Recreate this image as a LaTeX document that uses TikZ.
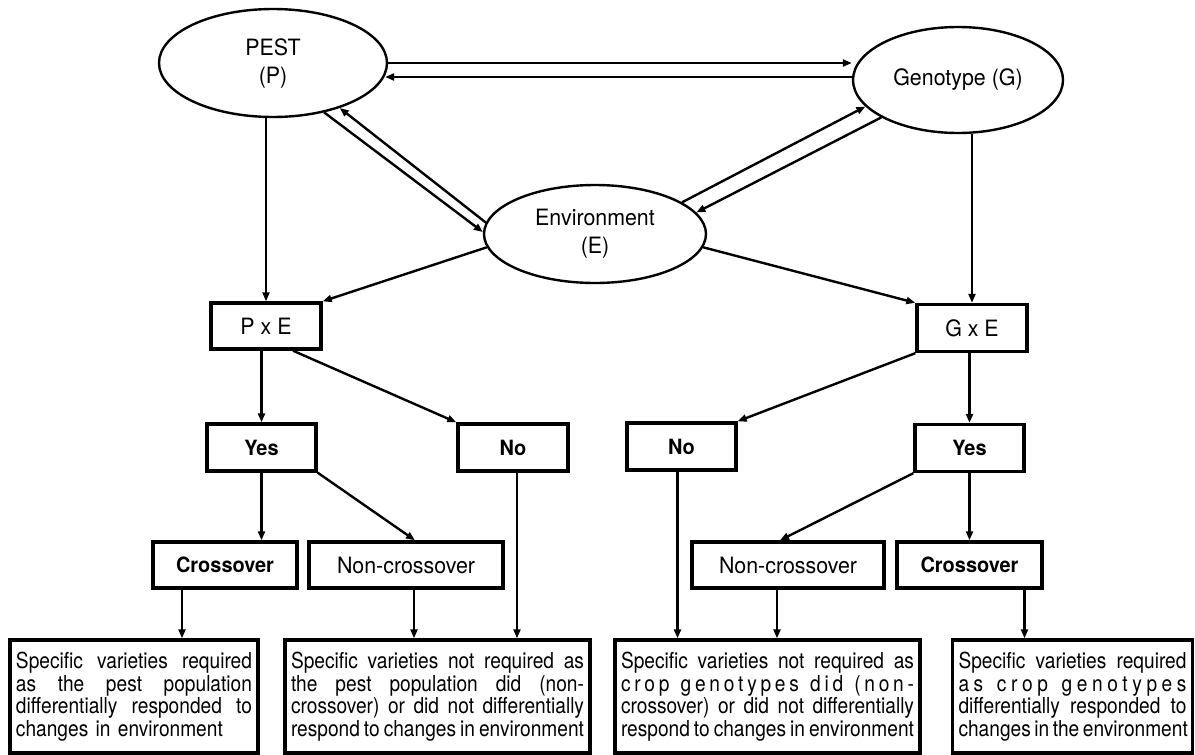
\documentclass[tikz,border=0pt]{standalone}
\usepackage{fontspec}
\setmainfont{TeX Gyre Heros}[FakeStretch=0.95]
\newfontfamily\narrowfont{TeX Gyre Heros}[FakeStretch=0.87]
\usetikzlibrary{shapes.geometric,arrows.meta,calc}
\setlength\parindent{0pt}
\newcommand\jl[2]{\makebox[#1][s]{\spaceskip=0pt\xspaceskip=0pt\relax #2}}
\newcommand\lline[2]{\makebox[#1][l]{#2}}
\begin{document}
\begin{tikzpicture}[x=1pt,y=-1pt,
  ell/.style={ellipse,draw,line width=2.4pt,inner sep=0pt,align=center,font=\fontsize{22.5}{28}\selectfont},
  sbox/.style={rectangle,draw,line width=3.4pt,inner sep=0pt,align=center,minimum height=46pt,font=\fontsize{22.5}{24}\selectfont},
  bsbox/.style={sbox,font=\bfseries\fontsize{21}{24}\selectfont},
  bbox/.style={rectangle,draw,line width=3.4pt,inner xsep=6pt,inner ysep=0pt,minimum height=113pt,font=\narrowfont\fontsize{22}{22.5}\selectfont,align=left},
  arr/.style={line width=2.4pt,-{Triangle[length=9pt,width=7pt]}},
]
\useasboundingbox (0,0) rectangle (1195,755);
% ellipses
\node[ell,minimum width=228pt,minimum height=108pt] (P) at (273,63) {PEST\\(P)};
\node[ell,minimum width=210pt,minimum height=106pt] (G) at (958,80) {Genotype (G)};
\node[ell,minimum width=222pt,minimum height=98pt] (E) at (595,234) {Environment\\(E)};
% interaction boxes
\node[sbox,minimum width=110pt] (PxE) at (266,326) {P x E};
\node[sbox,minimum width=110pt,minimum height=47pt] (GxE) at (972,328) {G x E};
\node[bsbox,minimum width=109pt,minimum height=47pt] (YesL) at (261.5,447.5) {Yes};
\node[bsbox,minimum width=110pt,minimum height=47pt] (NoL) at (513,447.5) {No};
\node[bsbox,minimum width=109pt,minimum height=47pt] (NoR) at (681.5,446.5) {No};
\node[bsbox,minimum width=109pt,minimum height=47pt] (YesR) at (969.5,448) {Yes};
\node[bsbox,minimum width=144pt] (CrL) at (225,565) {Crossover};
\node[sbox,minimum width=194pt] (NCL) at (406,565) {Non-crossover};
\node[sbox,minimum width=192pt] (NCR) at (788,565) {Non-crossover};
\node[bsbox,minimum width=145pt] (CrR) at (969.5,565) {Crossover};
% bottom boxes
\node[bbox,text width=236pt] (BL1) at (134,696.5) {%
\jl{236pt}{Specific varieties required}\\
\jl{236pt}{as the pest population}\\
\jl{236pt}{differentially responded to}\\
\lline{236pt}{changes in environment}};
\node[bbox,text width=293pt] (BL2) at (437.5,696.5) {%
\jl{293pt}{Specific varieties not required as}\\
\jl{293pt}{the pest population did (non-}\\
\jl{293pt}{crossover) or did not differentially}\\
\jl{293pt}{respond to changes in environment}};
\node[bbox,text width=293pt] (BR1) at (767.5,696.5) {%
\jl{293pt}{Specific varieties not required as}\\
\lline{293pt}{c\hfill r\hfill o\hfill p\hfill\hfill\hfill g\hfill e\hfill n\hfill o\hfill t\hfill y\hfill p\hfill e\hfill s\hfill\hfill\hfill d\hfill i\hfill d\hfill\hfill\hfill (\hfill n\hfill o\hfill n\hfill -}\\
\jl{293pt}{crossover) or did not differentially}\\
\jl{293pt}{respond to changes in environment}};
\node[bbox,text width=228pt] (BR2) at (1072.5,696.5) {%
\jl{228pt}{Specific varieties required}\\
\lline{228pt}{a\hfill s\hfill\hfill\hfill c\hfill r\hfill o\hfill p\hfill\hfill\hfill g\hfill e\hfill n\hfill o\hfill t\hfill y\hfill p\hfill e\hfill s}\\
\jl{228pt}{differentially responded to}\\
\jl{228pt}{changes in the environment}};
% P <-> G
\draw[arr] (P.east) -- (P.east -| G.west);
\draw[arr] ($(G.west)+(0,-3)$) -- ($(P.east)+(-3,14)$);
% P <-> E
\draw[arr] (P.-44) -- (E.179);
\draw[arr] (E.174) -- (P.-34);
% E <-> G
\draw[arr] (E.20) -- (G.-164);
\draw[arr] (G.-154) -- (E.12);
% to interaction boxes
\draw[arr] (PxE.north |- P.south) -- (PxE.north);
\draw[arr] (E.-173) -- (PxE.north east);
\draw[arr] (E.-7) -- (GxE.north west);
\draw[arr] (GxE.north |- G.south) -- (GxE.north);
% left branch
\draw[arr] (YesL.north |- PxE.south) -- (YesL.north);
\draw[arr] ($(PxE.south)+(27,0)$) -- (NoL.north west);
\draw[arr] (YesL.south) -- (YesL.south |- CrL.north);
\draw[arr] (YesL.south east) -- ($(NCL.north)+(9,0)$);
\coordinate (c1) at ($(CrL.south)+(-43,0)$);
\coordinate (c2) at ($(NCL.south)+(8,0)$);
\coordinate (c3) at ($(NoL.south)+(4,0)$);
\draw[arr] (c1) -- (c1 |- BL1.north);
\draw[arr] (c2) -- (c2 |- BL2.north);
\draw[arr] (c3) -- (c3 |- BL2.north);
% right branch
\draw[arr] (GxE.south west) -- (NoR.north east);
\draw[arr] (YesR.north |- GxE.south) -- (YesR.north);
\draw[arr] (YesR.south west) -- ($(NCR.north)+(-8,0)$);
\draw[arr] (YesR.south) -- (YesR.south |- CrR.north);
\coordinate (c4) at ($(NoR.south)+(-4,0)$);
\coordinate (c5) at ($(NCR.south)+(-11,0)$);
\coordinate (c6) at ($(CrR.south)+(55,0)$);
\draw[arr] (c4) -- (c4 |- BR1.north);
\draw[arr] (c5) -- (c5 |- BR1.north);
\draw[arr] (c6) -- (c6 |- BR2.north);
\end{tikzpicture}
\end{document}
